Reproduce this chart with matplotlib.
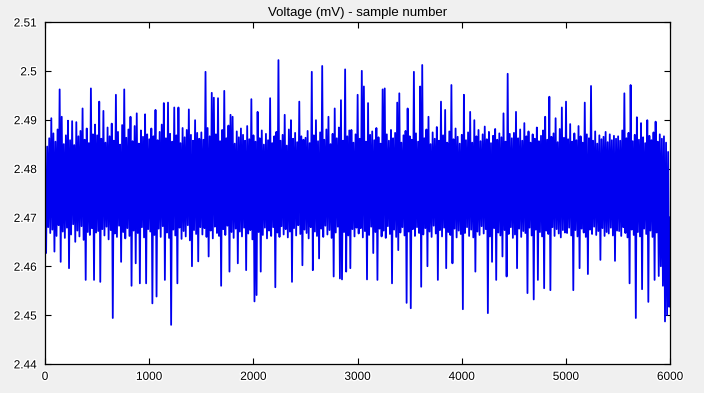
import matplotlib
matplotlib.use("Agg")
import matplotlib.pyplot as plt
import matplotlib.patheffects as pe
import numpy as np

# voltage readings (mV), one every 10 samples
seg_0000 = [2.4790, 2.4627, 2.4845, 2.4680, 2.4862, 2.4668, 2.4903, 2.4675, 2.4872, 2.4630,
            2.4855, 2.4662, 2.4880, 2.4684, 2.4962, 2.4609, 2.4906, 2.4671, 2.4850, 2.4658,
            2.4868, 2.4679, 2.4898, 2.4596, 2.4858, 2.4665, 2.4897, 2.4686, 2.4848, 2.4650,
            2.4895, 2.4673, 2.4866, 2.4661, 2.4877, 2.4682, 2.4923, 2.4654, 2.4859, 2.4572,
            2.4882, 2.4670, 2.4852, 2.4664, 2.4964, 2.4678, 2.4870, 2.4572, 2.4890, 2.4669]
seg_0500 = [2.4868, 2.4672, 2.4937, 2.4568, 2.4861, 2.4676, 2.4918, 2.4663, 2.4853, 2.4681,
            2.4884, 2.4655, 2.4866, 2.4674, 2.4892, 2.4494, 2.4857, 2.4667, 2.4951, 2.4660,
            2.4875, 2.4683, 2.4849, 2.4609, 2.4889, 2.4670, 2.4962, 2.4657, 2.4863, 2.4678,
            2.4880, 2.4662, 2.4906, 2.4560, 2.4856, 2.4673, 2.4887, 2.4606, 2.4913, 2.4668,
            2.4851, 2.4565, 2.4878, 2.4680, 2.4865, 2.4659, 2.4911, 2.4565, 2.4870, 2.4676]
seg_1000 = [2.4860, 2.4671, 2.4882, 2.4524, 2.4866, 2.4664, 2.4920, 2.4538, 2.4858, 2.4677,
            2.4875, 2.4660, 2.4890, 2.4682, 2.4934, 2.4572, 2.4862, 2.4669, 2.4935, 2.4658,
            2.4871, 2.4480, 2.4855, 2.4675, 2.4925, 2.4663, 2.4868, 2.4565, 2.4925, 2.4679,
            2.4852, 2.4656, 2.4883, 2.4672, 2.4864, 2.4661, 2.4879, 2.4684, 2.4921, 2.4653,
            2.4869, 2.4600, 2.4857, 2.4674, 2.4899, 2.4666, 2.4873, 2.4610, 2.4861, 2.4680]
seg_1500 = [2.4874, 2.4665, 2.4859, 2.4678, 2.4998, 2.4660, 2.4883, 2.4620, 2.4866, 2.4673,
            2.4955, 2.4657, 2.4945, 2.4681, 2.4870, 2.4668, 2.4944, 2.4662, 2.4856, 2.4560,
            2.4879, 2.4676, 2.4959, 2.4664, 2.4862, 2.4683, 2.4888, 2.4589, 2.4910, 2.4670,
            2.4906, 2.4658, 2.4851, 2.4677, 2.4876, 2.4606, 2.4864, 2.4671, 2.4882, 2.4661,
            2.4869, 2.4679, 2.4857, 2.4592, 2.4887, 2.4667, 2.4860, 2.4674, 2.4942, 2.4655]
seg_2000 = [2.4868, 2.4528, 2.4855, 2.4541, 2.4916, 2.4670, 2.4862, 2.4589, 2.4878, 2.4664,
            2.4849, 2.4679, 2.4871, 2.4657, 2.4858, 2.4673, 2.4944, 2.4662, 2.4852, 2.4680,
            2.4866, 2.4557, 2.4875, 2.4669, 2.5022, 2.4660, 2.4857, 2.4682, 2.4869, 2.4665,
            2.4910, 2.4676, 2.4847, 2.4659, 2.4880, 2.4671, 2.4899, 2.4568, 2.4861, 2.4678,
            2.4873, 2.4663, 2.4854, 2.4684, 2.4937, 2.4666, 2.4866, 2.4602, 2.4859, 2.4675]
seg_2500 = [2.4863, 2.4668, 2.4877, 2.4657, 2.4852, 2.4680, 2.4998, 2.4592, 2.4868, 2.4671,
            2.4899, 2.4662, 2.4856, 2.4616, 2.4874, 2.4677, 2.5010, 2.4660, 2.4859, 2.4683,
            2.4880, 2.4665, 2.4906, 2.4674, 2.4850, 2.4658, 2.4871, 2.4579, 2.4923, 2.4669,
            2.4862, 2.4681, 2.4884, 2.4575, 2.4940, 2.4573, 2.4857, 2.4670, 2.5003, 2.4589,
            2.4866, 2.4663, 2.4878, 2.4596, 2.4879, 2.4676, 2.4853, 2.4661, 2.4870, 2.4679]
seg_3000 = [2.4951, 2.4667, 2.4861, 2.4678, 2.5000, 2.4659, 2.4968, 2.4672, 2.4855, 2.4573,
            2.4934, 2.4664, 2.4869, 2.4681, 2.4876, 2.4627, 2.4858, 2.4670, 2.4883, 2.4572,
            2.4864, 2.4677, 2.4851, 2.4661, 2.4962, 2.4673, 2.4964, 2.4658, 2.4870, 2.4682,
            2.4857, 2.4666, 2.4879, 2.4565, 2.4862, 2.4675, 2.4873, 2.4660, 2.4935, 2.4633,
            2.4954, 2.4669, 2.4853, 2.4680, 2.4868, 2.4663, 2.4877, 2.4525, 2.4923, 2.4671]
seg_3500 = [2.4866, 2.4514, 2.4859, 2.4676, 2.4998, 2.4662, 2.4872, 2.4680, 2.4855, 2.4668,
            2.4968, 2.4558, 2.5012, 2.4665, 2.4862, 2.4678, 2.4880, 2.4600, 2.4906, 2.4671,
            2.4850, 2.4660, 2.4874, 2.4683, 2.4861, 2.4667, 2.4885, 2.4572, 2.4857, 2.4674,
            2.4937, 2.4661, 2.4868, 2.4679, 2.4920, 2.4596, 2.4853, 2.4670, 2.4876, 2.4664,
            2.4971, 2.4606, 2.4860, 2.4677, 2.4882, 2.4659, 2.4865, 2.4673, 2.4851, 2.4666]
seg_4000 = [2.4869, 2.4512, 2.4951, 2.4668, 2.4858, 2.4680, 2.4874, 2.4662, 2.4916, 2.4675,
            2.4853, 2.4659, 2.4899, 2.4589, 2.4866, 2.4671, 2.4879, 2.4664, 2.4856, 2.4682,
            2.4870, 2.4667, 2.4886, 2.4676, 2.4860, 2.4504, 2.4875, 2.4661, 2.4852, 2.4609,
            2.4867, 2.4678, 2.4881, 2.4572, 2.4859, 2.4669, 2.4872, 2.4663, 2.4864, 2.4620,
            2.4913, 2.4674, 2.4855, 2.4579, 2.4994, 2.4666, 2.4871, 2.4680, 2.4862, 2.4658]
seg_4500 = [2.4873, 2.4665, 2.4916, 2.4596, 2.4862, 2.4677, 2.4880, 2.4660, 2.4857, 2.4672,
            2.4893, 2.4668, 2.4866, 2.4545, 2.4876, 2.4679, 2.4853, 2.4663, 2.4870, 2.4532,
            2.4861, 2.4675, 2.4884, 2.4572, 2.4856, 2.4670, 2.4867, 2.4661, 2.4878, 2.4555,
            2.4906, 2.4673, 2.4859, 2.4666, 2.4947, 2.4551, 2.4865, 2.4680, 2.4872, 2.4662,
            2.4903, 2.4676, 2.4854, 2.4667, 2.4881, 2.4659, 2.4925, 2.4674, 2.4863, 2.4669]
seg_5000 = [2.4937, 2.4668, 2.4860, 2.4679, 2.4891, 2.4663, 2.4855, 2.4551, 2.4872, 2.4674,
            2.4858, 2.4661, 2.4887, 2.4596, 2.4866, 2.4677, 2.4853, 2.4669, 2.4935, 2.4660,
            2.4870, 2.4584, 2.4862, 2.4675, 2.4969, 2.4666, 2.4857, 2.4681, 2.4876, 2.4664,
            2.4851, 2.4672, 2.4868, 2.4613, 2.4860, 2.4678, 2.4865, 2.4662, 2.4875, 2.4670,
            2.4854, 2.4667, 2.4870, 2.4679, 2.4858, 2.4663, 2.4867, 2.4611, 2.4861, 2.4673]
seg_5500 = [2.4866, 2.4672, 2.4857, 2.4662, 2.4878, 2.4680, 2.4954, 2.4668, 2.4862, 2.4659,
            2.4873, 2.4565, 2.4971, 2.4675, 2.4856, 2.4664, 2.4869, 2.4494, 2.4905, 2.4670,
            2.4859, 2.4661, 2.4893, 2.4553, 2.4864, 2.4677, 2.4852, 2.4666, 2.4899, 2.4527,
            2.4867, 2.4673, 2.4858, 2.4660, 2.4874, 2.4572, 2.4896, 2.4669, 2.4855, 2.4580,
            2.4870, 2.4600, 2.4861, 2.4560, 2.4866, 2.4487, 2.4853, 2.4500, 2.4834, 2.4517,
            2.4700]

sample_step = 10
x_ticks = [0, 1000, 2000, 3000, 4000, 5000, 6000]
y_ticks = [2.44, 2.45, 2.46, 2.47, 2.48, 2.49, 2.5, 2.51]
y_labels = ["2.44", "2.45", "2.46", "2.47", "2.48", "2.49", "2.5", "2.51"]

voltage = np.array(seg_0000 + seg_0500 + seg_1000 + seg_1500 + seg_2000 + seg_2500
                   + seg_3000 + seg_3500 + seg_4000 + seg_4500 + seg_5000 + seg_5500)
samples = np.arange(len(voltage)) * sample_step

plt.rcParams["font.family"] = ["Liberation Sans", "DejaVu Sans"]

fig = plt.figure(figsize=(7.04, 3.93), dpi=100, facecolor="#f0f0f0")
ax = fig.add_axes([0.064, 0.074, 0.888, 0.870])
ax.set_facecolor("white")

ax.plot(samples, voltage, color="#0000f0", lw=1.3)

ax.set_xlim(0, 6000)
ax.set_ylim(2.44, 2.51)
ax.set_xticks(x_ticks)
ax.set_yticks(y_ticks)
ax.set_yticklabels(y_labels)
ax.tick_params(direction="in", length=4.5, width=0.8, top=True, right=True,
               labelsize=8.5, colors="black")
ax.tick_params(axis="y", pad=6)
ax.tick_params(axis="x", pad=5)
for s in ax.spines.values():
    s.set_linewidth(0.9)

halo = [pe.withStroke(linewidth=2, foreground="white")]
for lab in ax.get_xticklabels() + ax.get_yticklabels():
    lab.set_path_effects(halo)

ax.set_title("Voltage (mV) - sample number", fontsize=9.5, pad=4)

fig.savefig("out.png", dpi=100, facecolor=fig.get_facecolor())
